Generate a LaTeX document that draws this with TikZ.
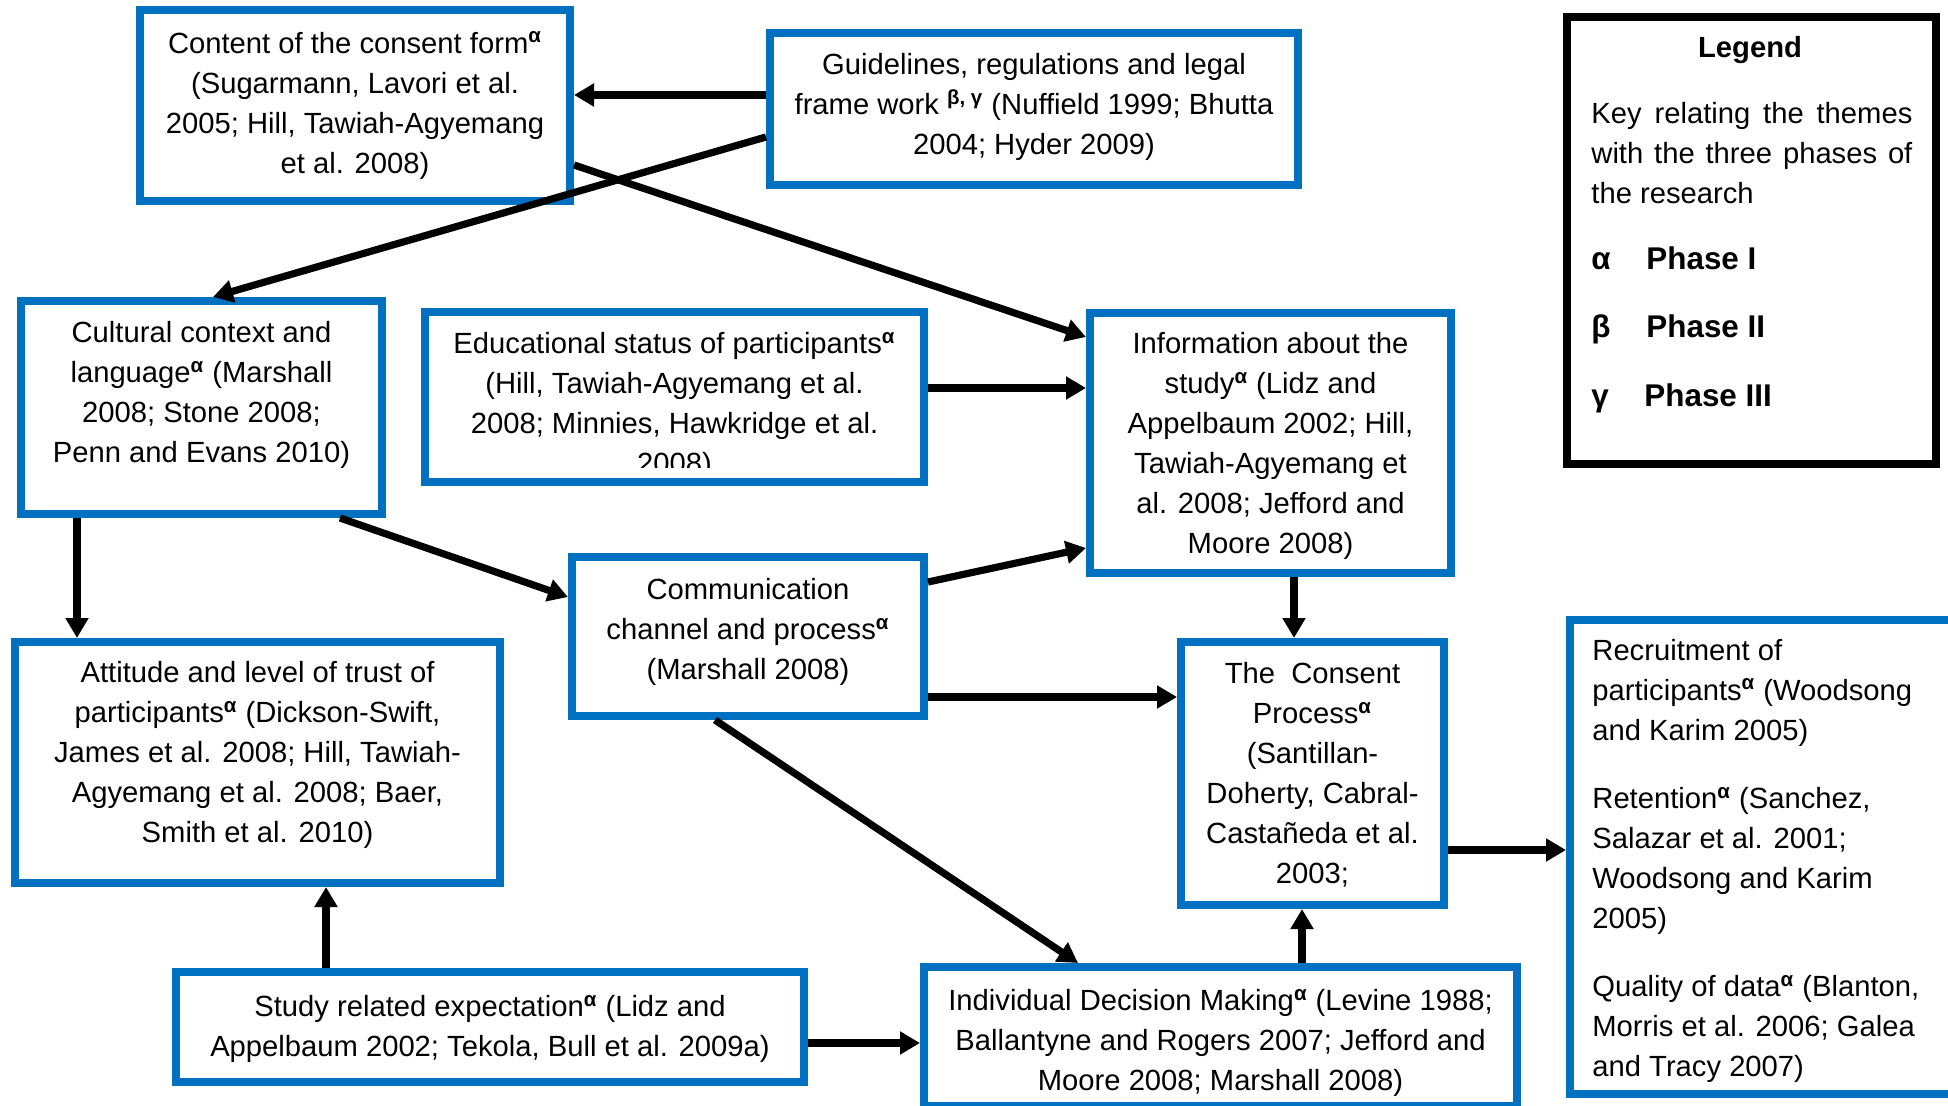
\documentclass[tikz,border=0pt]{standalone}
\usepackage{fontspec}
\setmainfont{Liberation Sans}
\usetikzlibrary{arrows.meta}
\definecolor{boxblue}{RGB}{0,112,192}
\newcommand\sal{\textsuperscript{\textbf{α}}}
\begin{document}
\begin{tikzpicture}[x=0.5pt,y=-0.5pt,
  box/.style={draw=boxblue, line width=4pt, rectangle, inner sep=0pt},
  legbox/.style={draw=black, line width=4pt, rectangle, inner sep=0pt},
  txt/.style={font=\fontsize{14.6pt}{20pt}\selectfont, align=center, inner sep=0pt},
  ltxt/.style={font=\fontsize{14.6pt}{20pt}\selectfont, align=left, inner sep=0pt},
  phase/.style={font=\fontsize{15.7pt}{19pt}\selectfont\bfseries, inner sep=0pt, anchor=base west},
  arr/.style={line width=3.6pt, -{Triangle[length=10pt,width=11pt]}}
]
\useasboundingbox (0,0) rectangle (1948,1106);
\fill[white] (0,0) rectangle (1948,1106);
\clip (0,0) rectangle (1948,1106);

% boxes
\node[box, minimum width=215pt, minimum height=95.5pt] (content) at (355,105.5) {};
\node[box, minimum width=264pt, minimum height=76pt] (guide) at (1034,109) {};
\node[legbox, minimum width=184.5pt, minimum height=223.5pt] (legend) at (1751.5,240.5) {};
\node[box, minimum width=180.5pt, minimum height=106.5pt] (cult) at (201.5,407.5) {};
\node[box, minimum width=249.5pt, minimum height=85pt] (edu) at (674.5,397) {};
\node[box, minimum width=180.5pt, minimum height=130pt] (info) at (1270.5,443) {};
\node[box, minimum width=176pt, minimum height=79.5pt] (comm) at (748,636.5) {};
\node[box, minimum width=242.5pt, minimum height=120.5pt] (att) at (257.5,762.5) {};
\node[box, minimum width=131.5pt, minimum height=131.5pt] (cons) at (1312.5,773.5) {};
\node[box, minimum width=210pt, minimum height=237pt] (rec) at (1780,857) {};
\node[box, minimum width=296.5pt, minimum height=69.5pt] (idm) at (1220.5,1036.5) {};
\node[box, minimum width=314pt, minimum height=55pt] (study) at (490,1027) {};

% texts
\node[txt] (contentT) at (355,105.5) {Content of the consent form\sal\\(Sugarmann, Lavori et al.\\2005; Hill, Tawiah-Agyemang\\et al. 2008)};
\node[txt] (guideT) at (1034,107) {Guidelines, regulations and legal\\frame work \textsuperscript{\textbf{β, γ}} (Nuffield 1999; Bhutta\\2004; Hyder 2009)};
\node[txt] (cultT) at (201.5,395) {Cultural context and\\language\sal{} (Marshall\\2008; Stone 2008;\\Penn and Evans 2010)};
\begin{scope}
\clip (425,312) rectangle (924,468);
\node[txt] (eduT) at (674.5,406) {Educational status of participants\sal\\(Hill, Tawiah-Agyemang et al.\\2008; Minnies, Hawkridge et al.\\2008)};
\end{scope}
\node[txt] (infoT) at (1270.5,446) {Information about the\\study\sal{} (Lidz and\\Appelbaum 2002; Hill,\\Tawiah-Agyemang et\\al. 2008; Jefford and\\Moore 2008)};
\node[txt] (commT) at (748,632) {Communication\\channel and process\sal\\(Marshall 2008)};
\node[txt] (attT) at (257.5,755) {Attitude and level of trust of\\participants\sal{} (Dickson-Swift,\\James et al. 2008; Hill, Tawiah-\\Agyemang et al. 2008; Baer,\\Smith et al. 2010)};
\node[txt] (consT) at (1312.5,775) {The\ \ Consent\\Process\sal\\(Santillan-\\Doherty, Cabral-\\Castañeda et al.\\2003;};
\node[txt] (studyT) at (490,1029) {Study related expectation\sal{} (Lidz and\\Appelbaum 2002; Tekola, Bull et al. 2009a)};
\node[txt] (idmT) at (1220.5,1043) {Individual Decision Making\sal{} (Levine 1988;\\Ballantyne and Rogers 2007; Jefford and\\Moore 2008; Marshall 2008)};
\node[ltxt, anchor=west] (recT) at (1592,861) {Recruitment of\\participants\sal{} (Woodsong\\and Karim 2005)\\[14.2pt]Retention\sal{} (Sanchez,\\Salazar et al. 2001;\\Woodsong and Karim\\2005)\\[14.2pt]Quality of data\sal{} (Blanton,\\Morris et al. 2006; Galea\\and Tracy 2007)};

% legend
\node[txt, font=\fontsize{14.6pt}{20pt}\selectfont\bfseries] (legT) at (1750,50) {Legend};
\node[ltxt, anchor=west] (keyT) at (1591,153) {\makebox[160.5pt][s]{Key relating the themes}\\\makebox[160.5pt][s]{with the three phases of}\\the research};
\node[phase] (a1) at (1591,270) {α};
\node[phase] (p1) at (1646,270) {Phase I};
\node[phase] (a2) at (1591,338) {β};
\node[phase] (p2) at (1646,338) {Phase II};
\node[phase] (a3) at (1591,407) {γ};
\node[phase] (p3) at (1644,407) {Phase III};

% arrows
\draw[arr] (guide.west |- 0,95) -- (content.east |- 0,95);
\draw[arr] (guide.west |- 0,137) -- (cult.north -| 213,0);
\draw[arr] (content.east |- 0,165) -- (info.west |- 0,337);
\draw[arr] (edu.east |- 0,388) -- (info.west |- 0,388);
\draw[arr] (cult.south -| 77,0) -- (att.north -| 77,0);
\draw[arr] (cult.south -| 340,0) -- (comm.west |- 0,597);
\draw[arr] (comm.east |- 0,582) -- (info.west |- 0,548);
\draw[arr] (info.south -| 1294,0) -- (cons.north -| 1294,0);
\draw[arr] (comm.east |- 0,697) -- (cons.west |- 0,697);
\draw[arr] (comm.south -| 715,0) -- (idm.north -| 1078,0);
\draw[arr] (idm.north -| 1302,0) -- (cons.south -| 1302,0);
\draw[arr] (cons.east |- 0,850) -- (rec.west |- 0,850);
\draw[arr] (study.north -| 326,0) -- (att.south -| 326,0);
\draw[arr] (study.east |- 0,1043) -- (idm.west |- 0,1043);
\end{tikzpicture}
\end{document}
